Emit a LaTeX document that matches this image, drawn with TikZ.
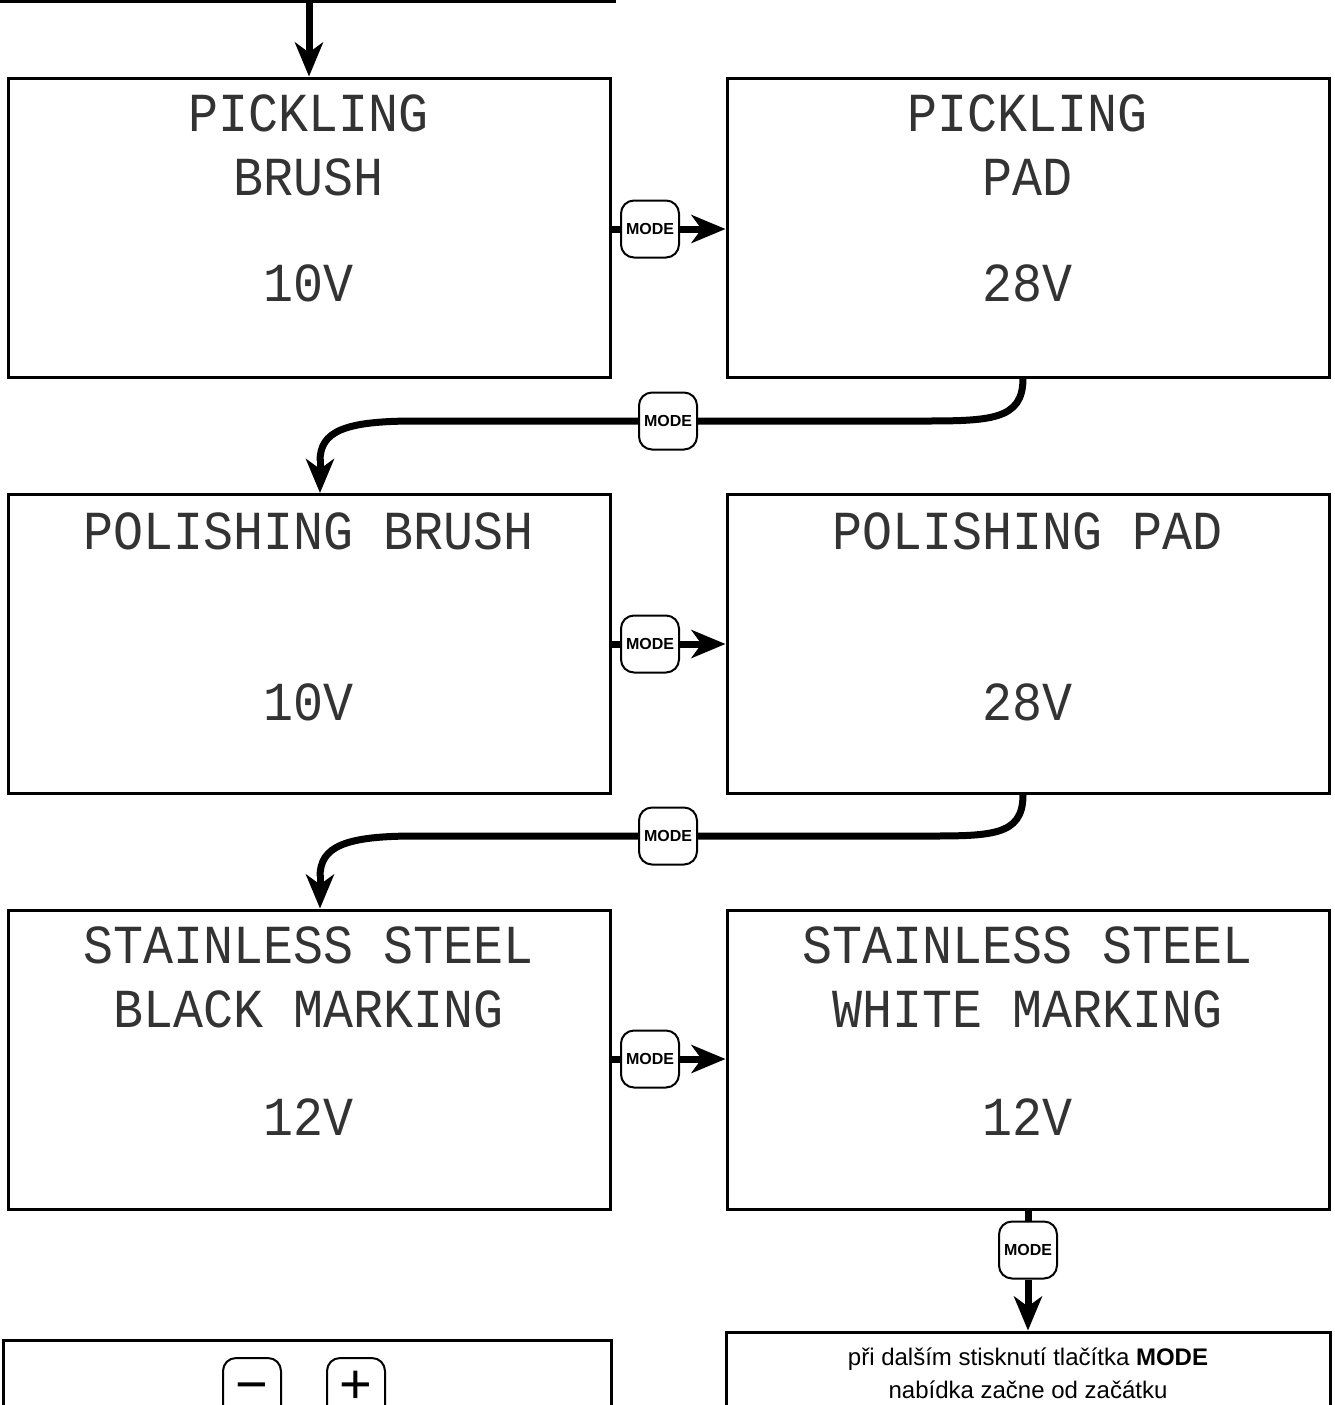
\documentclass[tikz,border=0pt]{standalone}
\usepackage{fontspec}
\usepackage{graphicx}
\setmainfont{Liberation Sans}
\newfontfamily\lcdfont{Liberation Mono}
\usetikzlibrary{arrows.meta,calc}
\newcommand{\lcd}[1]{{\lcdfont\fontsize{25}{25}\selectfont\scalebox{1}[1.1]{#1}}}
\tikzset{
  lcdbox/.style={draw, line width=1.5pt, minimum width=301pt, minimum height=149.5pt, inner sep=0pt},
  plainbox/.style={draw, line width=1.5pt, inner sep=0pt},
  btn/.style={draw, line width=1pt, rounded corners=6.5pt, fill=white, minimum width=29pt, minimum height=28.5pt, inner sep=0pt, font=\bfseries\fontsize{8}{8}\selectfont},
  pmbtn/.style={btn, minimum height=30pt, minimum width=29pt},
  pmtxt/.style={inner sep=0pt, anchor=base, font=\fontsize{28}{28}\selectfont},
  conn/.style={line width=3.5pt},
  conna/.style={line width=3.5pt, -{Stealth[length=17pt,width=14pt,inset=5pt]}},
  lcdtxt/.style={inner sep=0pt, anchor=center, text=black!80}
}
\begin{document}
\begin{tikzpicture}[x=0.5pt,y=-0.5pt]
\useasboundingbox (0,0) rectangle (1335,1405);
\clip (0,0) rectangle (1335,1405);
% boxes
\node[plainbox, minimum width=312pt, minimum height=100.5pt] (b0) at (302,-99.5) {};
\node[lcdbox] (b1) at (309,227.5) {};
\node[lcdbox] (b2) at (1028,227.5) {};
\node[lcdbox] (b3) at (309,644) {};
\node[lcdbox] (b4) at (1028,644) {};
\node[lcdbox] (b5) at (309,1059.5) {};
\node[lcdbox] (b6) at (1028,1059.5) {};
\node[plainbox, minimum width=304pt, minimum height=70pt] (b7) at (307,1410) {};
\node[plainbox, minimum width=302pt, minimum height=74pt] (b8) at (1028,1406) {};
% LCD texts
\node[lcdtxt] (t1a) at (309,113) {\lcd{PICKLING}};
\node[lcdtxt] (t1b) at (309,177) {\lcd{BRUSH}};
\node[lcdtxt] (t1c) at (309,283) {\lcd{10V}};
\node[lcdtxt] (t2a) at (1028,113) {\lcd{PICKLING}};
\node[lcdtxt] (t2b) at (1028,177) {\lcd{PAD}};
\node[lcdtxt] (t2c) at (1028,283) {\lcd{28V}};
\node[lcdtxt] (t3a) at (309,531) {\lcd{POLISHING BRUSH}};
\node[lcdtxt] (t3c) at (309,702) {\lcd{10V}};
\node[lcdtxt] (t4a) at (1028,531) {\lcd{POLISHING PAD}};
\node[lcdtxt] (t4c) at (1028,702) {\lcd{28V}};
\node[lcdtxt] (t5a) at (309,945) {\lcd{STAINLESS STEEL}};
\node[lcdtxt] (t5b) at (309,1009) {\lcd{BLACK MARKING}};
\node[lcdtxt] (t5c) at (309,1117) {\lcd{12V}};
\node[lcdtxt] (t6a) at (1028,945) {\lcd{STAINLESS STEEL}};
\node[lcdtxt] (t6b) at (1028,1009) {\lcd{WHITE MARKING}};
\node[lcdtxt] (t6c) at (1028,1117) {\lcd{12V}};
% bottom-right note
\node[inner sep=0pt, align=center, font=\fontsize{12}{16.5}\selectfont] (note) at (1028,1373.5) {při dalším stisknutí tlačítka \textbf{MODE}\\nabídka začne od začátku};
% top arrow
\draw[conna] (b1.north |- b0.south) -- (b1.north);
% helper coordinates
\coordinate (c1r) at (920,421);
\coordinate (c1l) at (415,421);
\coordinate (c2r) at (920,836);
\coordinate (c2l) at (415,836);
\coordinate (a3) at ($(b3.north)+(11,0)$);
\coordinate (a5) at ($(b5.north)+(11,0)$);
\coordinate (s2) at ($(b2.south)+(-5,0)$);
\coordinate (s4) at ($(b4.south)+(-5,0)$);
% row 1 horizontal
\node[btn] (m1) at (650,229) {MODE};
\draw[conn] (b1.east |- m1) -- (m1.west);
\draw[conna] (m1.east) -- (b2.west |- m1);
% row1 -> row2 curve
\draw[conn] (s2) .. controls +(0,42) and +(70,0) .. (c1r) -- (c1l) .. controls +(-70,0) and +(0,-30) .. ($(a3)+(0,-32)$);
\draw[conna] ($(a3)+(0,-34)$) -- (a3);
\node[btn] (m2) at (668,421) {MODE};
% row 2 horizontal
\node[btn] (m3) at (650,644) {MODE};
\draw[conn] (b3.east |- m3) -- (m3.west);
\draw[conna] (m3.east) -- (b4.west |- m3);
% row2 -> row3 curve
\draw[conn] (s4) .. controls +(0,42) and +(70,0) .. (c2r) -- (c2l) .. controls +(-70,0) and +(0,-30) .. ($(a5)+(0,-32)$);
\draw[conna] ($(a5)+(0,-34)$) -- (a5);
\node[btn] (m4) at (668,836) {MODE};
% row 3 horizontal
\node[btn] (m5) at (650,1059) {MODE};
\draw[conn] (b5.east |- m5) -- (m5.west);
\draw[conna] (m5.east) -- (b6.west |- m5);
% bottom vertical
\node[btn] (m6) at (1028,1250) {MODE};
\draw[conn] (b6.south) -- (m6.north);
\draw[conna] (m6.south) -- (b8.north);
% minus / plus buttons
\node[pmbtn] (minus) at (252,1388) {};
\node[pmbtn] (plus) at (356,1388) {};
\node[pmtxt] (minustxt) at (252,1403) {−};
\node[pmtxt] (plustxt) at (356,1403) {+};
\end{tikzpicture}
\end{document}
